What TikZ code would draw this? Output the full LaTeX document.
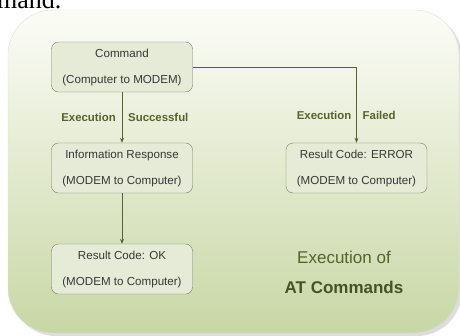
\documentclass[tikz,border=0pt]{standalone}
\usepackage{fontspec}
\setmainfont{Liberation Sans}
\newfontfamily\pageserif{Liberation Serif}
\usetikzlibrary{arrows.meta}

\definecolor{olivetext}{RGB}{85,98,42}
\definecolor{boxfill}{RGB}{229,235,214}
\definecolor{boxline}{RGB}{118,124,100}
\definecolor{bgtop}{RGB}{252,252,247}
\definecolor{bgbottom}{RGB}{200,215,165}
\definecolor{arrowcol}{RGB}{88,96,52}
\definecolor{boxtext}{RGB}{55,55,55}

\tikzset{
	msgbox/.style={draw=boxline, fill=boxfill, rounded corners=7pt,
		minimum width=141pt, minimum height=50pt, inner sep=0pt,
		align=center, text=boxtext, font=\fontsize{11.6}{26}\selectfont},
	flow/.style={->, draw=arrowcol, thick},
	flowlabel/.style={text=olivetext, font=\fontsize{11.4}{13}\selectfont\bfseries, inner sep=0pt}
}

\begin{document}
\begin{tikzpicture}[x=1pt, y=-1pt, >={Stealth[length=5pt, width=4pt]}]
	\useasboundingbox (0,0) rectangle (460,335);

	% cut off text of the page above
	\node[anchor=base west, inner sep=0pt, font=\pageserif\fontsize{26}{28}\selectfont]
		(pagetext) at (-3,8) {mand.};

	% background panel
	\fill[gray!45, opacity=0.6, rounded corners=45pt] (11,13) rectangle (462,336);
	\shade[top color=bgtop, bottom color=bgbottom, draw=gray!25, rounded corners=45pt]
		(8,10) rectangle (459,333);

	% boxes
	\node[msgbox] (cmd)  at (122,67)    {Command\\(Computer to MODEM)};
	\node[msgbox] (info) at (122,168)   {Information Response\\(MODEM to Computer)};
	\node[msgbox] (ok)   at (122,269)   {Result Code: OK\\(MODEM to Computer)};
	\node[msgbox] (err)  at (356.5,168) {Result Code: ERROR\\(MODEM to Computer)};

	% connectors
	\draw[flow] (cmd.south) -- (info.north);
	\draw[flow] (info.south) -- (ok.north);
	\draw[flow] (cmd.east) -| (err.north);

	\node[flowlabel, anchor=east] (succa) at ([xshift=-6pt, yshift=25pt]info.north) {Execution};
	\node[flowlabel, anchor=west] (succb) at ([xshift=6pt, yshift=25pt]info.north) {Successful};
	\node[flowlabel, anchor=east] (faila) at ([xshift=-5pt, yshift=27pt]err.north) {Execution};
	\node[flowlabel, anchor=west] (failb) at ([xshift=6pt, yshift=27pt]err.north) {Failed};

	% title
	\node[text=olivetext, font=\fontsize{17}{20}\selectfont] (title) at (344,257) {Execution of};
	\node[text=olivetext!85!black, font=\fontsize{17}{20}\selectfont\bfseries] (subtitle) at (344,287) {AT Commands};

\end{tikzpicture}
\end{document}
